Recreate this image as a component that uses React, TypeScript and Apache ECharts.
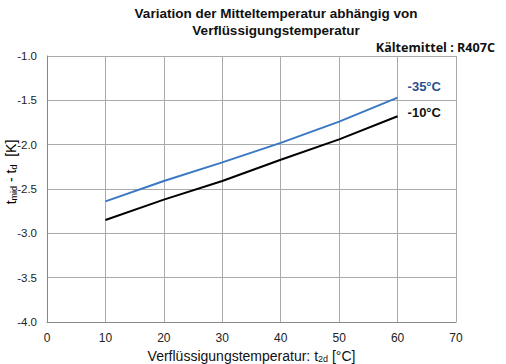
import React, { useEffect, useRef } from "react";
import * as echarts from "echarts";

const xValues = [10, 20, 30, 40, 50, 60];
const series35 = [-2.64, -2.41, -2.2, -1.98, -1.74, -1.47];
const series10 = [-2.85, -2.62, -2.41, -2.17, -1.94, -1.68];
const seriesNames = ["-35°C", "-10°C"];
const titleText = "Variation der Mitteltemperatur abhängig von\nVerflüssigungstemperatur";
const subText = "Kältemittel : R407C";

export default function App() {
  const ref = useRef<HTMLDivElement>(null);
  useEffect(() => {
    const chart = echarts.init(ref.current!, null, { renderer: "svg" });
    const font = "'Liberation Sans', Arial, sans-serif";
    const rich = {
      t: { fontFamily: font, fontSize: 14, color: "#111" },
      s: { fontFamily: font, fontSize: 9, color: "#111", verticalAlign: "bottom", padding: [6, 0, 0, 0] },
    };
    chart.setOption({
      animation: false,
      textStyle: { fontFamily: font },
      title: [
        {
          text: titleText,
          left: 271,
          top: 0,
          textAlign: "center",
          textStyle: { fontFamily: font, fontSize: 13.5, fontWeight: "bold", color: "#111", lineHeight: 17 },
        },
        {
          text: subText,
          right: 6,
          top: 35,
          textStyle: { fontFamily: "'Open Sans', sans-serif", fontSize: 12.6, fontWeight: "bold", color: "#111", lineHeight: 15 },
        },
      ],
      graphic: [
        {
          type: "text",
          x: 11,
          y: 172,
          rotation: Math.PI / 2,
          style: {
            text: "{t|t}{s|mid}{t| - t}{s|d}{t|  [K]}",
            rich,
            align: "center",
            verticalAlign: "middle",
          },
        },
      ],
      grid: { left: 47, right: 50, top: 56, bottom: 42, containLabel: false, outerBoundsMode: "none" },
      xAxis: {
        type: "value",
        min: 0,
        max: 70,
        interval: 10,
        name: "Verflüssigungstemperatur: {t|t}{s|2d} [°C]",
        nameLocation: "middle",
        nameGap: 23,
        nameTextStyle: { fontFamily: font, fontSize: 14, color: "#111", rich },
        axisLine: { show: true, lineStyle: { color: "#888", width: 1 } },
        axisTick: { show: false },
        axisLabel: { color: "#222", fontSize: 12, margin: 10 },
        splitLine: { show: true, lineStyle: { color: "#aaa", width: 1 } },
      },
      yAxis: {
        type: "value",
        min: -4,
        max: -1,
        interval: 0.5,
        axisLine: { show: true, lineStyle: { color: "#888", width: 1 } },
        axisTick: { show: false },
        axisLabel: { color: "#222", fontSize: 11.5, margin: 10, formatter: (v: number) => v.toFixed(1) },
        splitLine: { show: true, lineStyle: { color: "#aaa", width: 1 } },
      },
      series: [
        {
          name: seriesNames[0],
          type: "line",
          data: xValues.map((x, i) => [x, series35[i]]),
          showSymbol: false,
          lineStyle: { color: "#3a78c2", width: 2 },
          itemStyle: { color: "#3a78c2" },
          endLabel: {
            show: true,
            formatter: seriesNames[0],
            color: "#2b4f8c",
            fontFamily: font,
            fontSize: 13,
            fontWeight: "bold",
            offset: [2, -11],
          },
        },
        {
          name: seriesNames[1],
          type: "line",
          data: xValues.map((x, i) => [x, series10[i]]),
          showSymbol: false,
          lineStyle: { color: "#000", width: 2 },
          itemStyle: { color: "#000" },
          endLabel: {
            show: true,
            formatter: seriesNames[1],
            color: "#111",
            fontFamily: font,
            fontSize: 13,
            fontWeight: "bold",
            offset: [2, -4],
          },
        },
      ],
    });
    return () => chart.dispose();
  }, []);
  return <div ref={ref} style={{ width: 506, height: 364, position: "absolute", left: 0, top: 0 }} />;
}
